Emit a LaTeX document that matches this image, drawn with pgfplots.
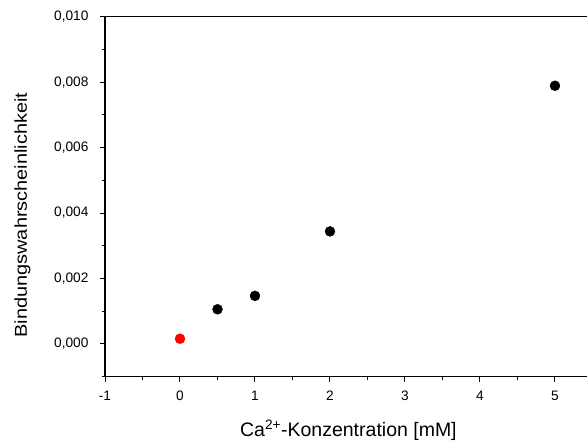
\documentclass[border=0pt]{standalone}
\usepackage{graphicx}
\usepackage{pgfplots}
\pgfplotsset{compat=1.18}
\usepackage{fontspec}
\setmainfont{Liberation Sans}
\begin{document}
\begin{tikzpicture}
\begin{axis}[
  scale only axis,
  width=482pt, height=360pt,
  xmin=-1, xmax=5.427,
  ymin=-0.001, ymax=0.010,
  axis lines*=left,
  axis line style={line width=1.2pt, -},
  xtick={-1,0,1,2,3,4,5},
  minor xtick={-0.5,0.5,1.5,2.5,3.5,4.5},
  ytick={0,0.002,0.004,0.006,0.008,0.010},
  minor ytick={-0.001,0.001,0.003,0.005,0.007,0.009},
  tick align=outside,
  major tick length=5pt, minor tick length=3pt,
  tick style={line width=1pt, black},
  scaled y ticks=false,
  yticklabel style={font=\fontsize{13.7}{15}\selectfont, xshift=-8pt, /pgf/number format/.cd, use comma, fixed, fixed zerofill, precision=3, assume math mode=true},
  xticklabel style={font=\fontsize{13.7}{15}\selectfont, yshift=-6pt, /pgf/number format/assume math mode=true},
  xlabel={Ca\textsuperscript{2+}-Konzentration [mM]},
  ylabel={\scalebox{1.16}[1]{Bindungswahrscheinlichkeit}},
  xlabel style={font=\fontsize{19.5}{21}\selectfont, at={(axis description cs:0.505,-0.1667)}, anchor=base},
  ylabel style={font=\fontsize{17.2}{19}\selectfont, at={(axis description cs:-0.162,0.449)}, anchor=base},
  clip=false,
]
\draw[line width=1.2pt] (rel axis cs:0,1) -- (rel axis cs:1,1);
\coordinate (bl) at (rel axis cs:0,0);
\coordinate (tr) at (rel axis cs:1,1);
\addplot[only marks, mark=*, mark size=5pt, color=red] coordinates {(0,0.00016)};
\addplot[only marks, mark=*, mark size=5pt, color=black] coordinates {(0.5,0.00106) (1,0.00147) (2,0.00344) (5,0.00789)};
\end{axis}
\pgfresetboundingbox
\useasboundingbox ([shift={(-105pt,-64.3pt)}]bl) rectangle ([shift={(0pt,16.7pt)}]tr);
\end{tikzpicture}
\end{document}
